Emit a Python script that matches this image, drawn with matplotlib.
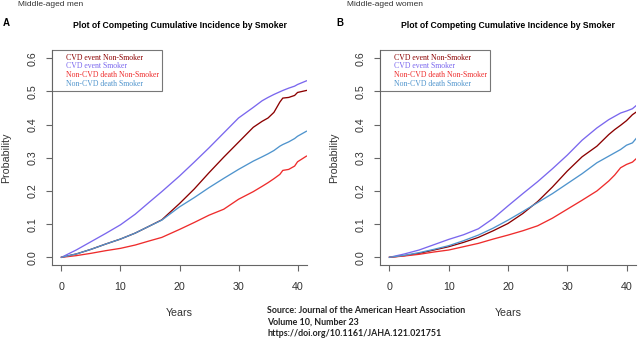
import matplotlib
matplotlib.use("Agg")
import matplotlib.pyplot as plt

plt.rcParams['font.family'] = ['Liberation Sans', 'DejaVu Sans']

# left panel: middle-aged men
years_a = [0, 2.5, 5, 7.5, 10, 12.5, 15, 17, 20, 22.5, 25, 27.5, 30, 32.5, 34, 35, 36, 37, 37.5, 38.5, 39.5, 40, 41.5]
cvd_non_a = [0, 0.010, 0.024, 0.040, 0.055, 0.073, 0.095, 0.113, 0.162, 0.206, 0.255, 0.302, 0.347, 0.392, 0.410, 0.420, 0.437, 0.468, 0.480, 0.482, 0.488, 0.497, 0.503]
cvd_smk_a = [0, 0.022, 0.047, 0.072, 0.098, 0.130, 0.168, 0.198, 0.245, 0.287, 0.330, 0.375, 0.420, 0.452, 0.472, 0.482, 0.491, 0.499, 0.503, 0.510, 0.516, 0.521, 0.532]
ncvd_non_a = [0, 0.005, 0.012, 0.020, 0.027, 0.037, 0.050, 0.060, 0.084, 0.105, 0.127, 0.145, 0.175, 0.198, 0.214, 0.225, 0.237, 0.250, 0.262, 0.265, 0.275, 0.288, 0.305]
ncvd_smk_a = [0, 0.010, 0.024, 0.040, 0.055, 0.073, 0.095, 0.112, 0.152, 0.180, 0.210, 0.238, 0.265, 0.290, 0.303, 0.312, 0.322, 0.335, 0.340, 0.348, 0.358, 0.365, 0.380]

# right panel: middle-aged women
years_b = [0, 2.5, 5, 7.5, 10, 12.5, 15, 17.5, 20, 22.5, 25, 27.5, 30, 32.5, 35, 37, 38, 39, 40, 41, 41.8]
cvd_non_b = [0, 0.005, 0.012, 0.022, 0.032, 0.045, 0.060, 0.080, 0.102, 0.132, 0.168, 0.212, 0.260, 0.303, 0.335, 0.370, 0.385, 0.398, 0.412, 0.430, 0.440]
cvd_smk_b = [0, 0.010, 0.022, 0.038, 0.054, 0.068, 0.086, 0.117, 0.155, 0.192, 0.228, 0.267, 0.308, 0.353, 0.390, 0.415, 0.425, 0.435, 0.441, 0.448, 0.460]
ncvd_non_b = [0, 0.004, 0.009, 0.016, 0.022, 0.032, 0.042, 0.055, 0.067, 0.080, 0.095, 0.118, 0.145, 0.172, 0.200, 0.230, 0.248, 0.270, 0.280, 0.287, 0.300]
ncvd_smk_b = [0, 0.006, 0.014, 0.024, 0.035, 0.050, 0.067, 0.088, 0.112, 0.138, 0.165, 0.192, 0.222, 0.252, 0.285, 0.305, 0.315, 0.325, 0.338, 0.345, 0.362]

labels = ['CVD event Non-Smoker', 'CVD event Smoker', 'Non-CVD death Non-Smoker', 'Non-CVD death Smoker']
colors = ['#8B0000', '#7A67EE', '#EE2C2C', '#4F94CD']
x_ticks = [0, 10, 20, 30, 40]
y_ticks = [0.0, 0.1, 0.2, 0.3, 0.4, 0.5, 0.6]

fig = plt.figure(figsize=(6.4, 3.44), dpi=100)
W, H = 640, 344


def make_axes(left, right):
    return fig.add_axes([left / W, (H - 265) / H, (right - left) / W, 215 / H])


panels = [
    (make_axes(52, 307), years_a, [cvd_non_a, cvd_smk_a, ncvd_non_a, ncvd_smk_a]),
    (make_axes(380, 636), years_b, [cvd_non_b, cvd_smk_b, ncvd_non_b, ncvd_smk_b]),
]

for ax, yrs, series in panels:
    for vals, col in zip(series, colors):
        ax.plot(yrs, vals, color=col, lw=0.95)
    ax.set_xlim(-1.6, 41.6)
    ax.set_ylim(-0.0232, 0.625)
    for s in ['top', 'right']:
        ax.spines[s].set_visible(False)
    for s in ['left', 'bottom']:
        ax.spines[s].set_color('#666666')
        ax.spines[s].set_linewidth(0.8)
    ax.set_xticks(x_ticks)
    ax.set_yticks(y_ticks)
    ax.set_yticklabels([f'{v:.1f}' for v in y_ticks], rotation=90, va='center')
    ax.tick_params(length=4.3, width=0.8, color='#666666', labelsize=7.7,
                   labelcolor='#333333')
    ax.tick_params(axis='x', pad=8)
    ax.tick_params(axis='y', pad=6)
    ax.set_xlabel('Years', fontsize=7.7, color='#333333')
    ax.set_ylabel('Probability', fontsize=7.7, color='#333333')
    ax.xaxis.set_label_coords(0.5, -(313 - 265) / 215, transform=ax.transAxes)
    ax.yaxis.set_label_coords(-46 / 255, 0.5, transform=ax.transAxes)
    ax.xaxis.label.set_va('center')
    ax.yaxis.label.set_va('center')
    ax.set_title('Plot of Competing Cumulative Incidence by Smoker', fontsize=6.2,
                 fontweight='bold', pad=16)
    leg = ax.legend([plt.Line2D([], [], lw=0) for _ in labels], labels, loc='upper left',
                    bbox_to_anchor=(0, 1), borderaxespad=0, frameon=True, fancybox=False,
                    handlelength=0.9, handletextpad=0.4, labelspacing=0.1, borderpad=0.45,
                    prop={'family': 'Liberation Serif', 'size': 5.6})
    leg.get_frame().set_edgecolor('#555555')
    leg.get_frame().set_linewidth(0.8)
    for txt, col in zip(leg.get_texts(), colors):
        txt.set_color(col)

fig.text(3 / W, 1 - 23 / H, 'A', fontsize=7, fontweight='bold', va='center')
fig.text(336 / W, 1 - 23 / H, 'B', fontsize=7, fontweight='bold', va='center')
fig.text(18 / W, 1 - 4.5 / H, 'Middle-aged men', fontsize=6, color='#333333', va='center')
fig.text(347 / W, 1 - 4.5 / H, 'Middle-aged women', fontsize=6, color='#333333', va='center')

source = ['Source: Journal of the American Heart Association', 'Volume 10, Number 23',
          'https://doi.org/10.1161/JAHA.121.021751']
for i, line in enumerate(source):
    fig.text(267 / W, 1 - (310.5 + 11.5 * i) / H, line, fontsize=6.4, fontweight='bold',
             family='Lato', color='#222222', va='center')

fig.savefig('out.png', dpi=100)
